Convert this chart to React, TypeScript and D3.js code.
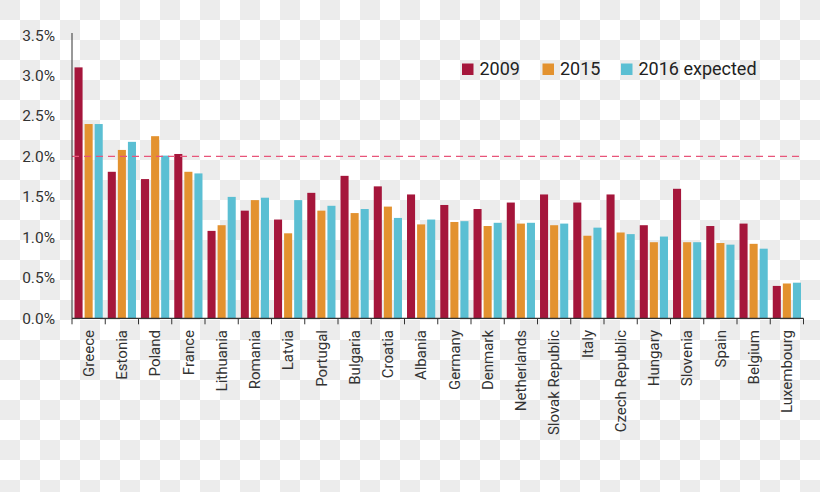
import React, { useRef, useEffect } from "react";
import * as d3 from "d3";

const countries = [
  "Greece", "Estonia", "Poland", "France", "Lithuania", "Romania", "Latvia",
  "Portugal", "Bulgaria", "Croatia", "Albania", "Germany", "Denmark",
  "Netherlands", "Slovak Republic", "Italy", "Czech Republic", "Hungary",
  "Slovenia", "Spain", "Belgium", "Luxembourg",
];
const values2009 = [3.1, 1.81, 1.72, 2.03, 1.08, 1.33, 1.22, 1.55, 1.76, 1.63, 1.53, 1.4, 1.35, 1.43, 1.53, 1.43, 1.53, 1.15, 1.6, 1.14, 1.17, 0.4];
const values2015 = [2.4, 2.08, 2.25, 1.81, 1.15, 1.46, 1.05, 1.33, 1.3, 1.38, 1.16, 1.19, 1.14, 1.17, 1.15, 1.02, 1.06, 0.94, 0.94, 0.93, 0.92, 0.43];
const values2016 = [2.4, 2.18, 2.01, 1.79, 1.5, 1.49, 1.46, 1.39, 1.35, 1.24, 1.22, 1.2, 1.18, 1.18, 1.17, 1.12, 1.04, 1.01, 0.94, 0.91, 0.86, 0.44];
const seriesNames = ["2009", "2015", "2016 expected"];
const seriesColors = ["#a5163b", "#e3922f", "#5bbfd3"];
const yTicks = [0, 0.5, 1, 1.5, 2, 2.5, 3, 3.5];
const targetLine = 2.0;

const BarChart = () => {
  const svgRef = useRef<SVGSVGElement>(null);

  useEffect(() => {
    const svg = d3.select(svgRef.current);
    svg.selectAll("*").remove();

    const width = 820;
    const height = 492;
    const font = "Roboto, 'Open Sans', sans-serif";
    const series = [values2009, values2015, values2016];

    // checkerboard background
    const defs = svg.append("defs");
    const pat = defs
      .append("pattern")
      .attr("id", "checker")
      .attr("width", 40)
      .attr("height", 40)
      .attr("patternUnits", "userSpaceOnUse");
    pat.append("rect").attr("width", 40).attr("height", 40).attr("fill", "#ffffff");
    pat.append("rect").attr("width", 20).attr("height", 20).attr("fill", "#ececec");
    pat.append("rect").attr("x", 20).attr("y", 20).attr("width", 20).attr("height", 20).attr("fill", "#ececec");
    svg.append("rect").attr("width", width).attr("height", height).attr("fill", "url(#checker)");

    const xScale = d3.scaleBand().domain(countries).range([72, 803.5]);
    const xSub = d3
      .scaleBand()
      .domain(seriesNames)
      .range([0, xScale.bandwidth()])
      .paddingInner(0.2)
      .paddingOuter(0.25);
    const yScale = d3.scaleLinear().domain([0, 3.5]).range([318.3, 35]);

    // bars
    series.forEach((vals, si) => {
      svg
        .append("g")
        .selectAll("rect")
        .data(vals)
        .enter()
        .append("rect")
        .attr("x", (d, i) => xScale(countries[i])! + xSub(seriesNames[si])!)
        .attr("y", d => yScale(d))
        .attr("width", xSub.bandwidth())
        .attr("height", d => yScale(0) - yScale(d))
        .attr("fill", seriesColors[si]);
    });

    // 2% dashed line
    svg
      .append("line")
      .attr("x1", 72)
      .attr("x2", 802)
      .attr("y1", yScale(targetLine))
      .attr("y2", yScale(targetLine))
      .attr("stroke", "#e8557a")
      .attr("stroke-width", 1.3)
      .attr("stroke-dasharray", "7,5");

    // y axis
    svg
      .append("line")
      .attr("x1", 72)
      .attr("x2", 72)
      .attr("y1", 33)
      .attr("y2", yScale(0))
      .attr("stroke", "#333")
      .attr("stroke-width", 1);

    svg
      .append("g")
      .selectAll("text")
      .data(yTicks)
      .enter()
      .append("text")
      .attr("x", 55)
      .attr("y", d => yScale(d) + 5.5)
      .attr("text-anchor", "end")
      .attr("font-family", font)
      .attr("font-size", 15.5)
      .attr("fill", "#333")
      .text(d => d.toFixed(1) + "%");

    // x axis
    const y0 = yScale(0);
    svg
      .append("line")
      .attr("x1", 72)
      .attr("x2", 803.5)
      .attr("y1", y0)
      .attr("y2", y0)
      .attr("stroke", "#333")
      .attr("stroke-width", 1.2);

    const edges = countries.map(c => xScale(c)!).concat([803.5]);
    svg
      .append("g")
      .selectAll("line")
      .data(edges)
      .enter()
      .append("line")
      .attr("x1", d => d)
      .attr("x2", d => d)
      .attr("y1", y0)
      .attr("y2", y0 + 6)
      .attr("stroke", "#333")
      .attr("stroke-width", 1);

    svg
      .append("g")
      .selectAll("text")
      .data(countries)
      .enter()
      .append("text")
      .attr("transform", d => `translate(${xScale(d)! + xScale.bandwidth() / 2}, 330) rotate(-90)`)
      .attr("dy", "0.35em")
      .attr("text-anchor", "end")
      .attr("font-family", font)
      .attr("font-size", 15)
      .attr("fill", "#333")
      .text(d => d);

    // legend
    const legendX = [462, 542.5, 621];
    const legend = svg
      .append("g")
      .selectAll("g")
      .data(seriesNames)
      .enter()
      .append("g")
      .attr("transform", (d, i) => `translate(${legendX[i]}, 63.5)`);
    legend
      .append("rect")
      .attr("width", 11.5)
      .attr("height", 11.5)
      .attr("fill", (d, i) => seriesColors[i]);
    legend
      .append("text")
      .attr("x", 17.5)
      .attr("y", 11.5)
      .attr("font-family", font)
      .attr("font-size", 18)
      .attr("fill", "#222")
      .text(d => d);
  }, []);

  return (
    <svg
      ref={svgRef}
      width={820}
      height={492}
      style={{ position: "absolute", left: 0, top: 0, display: "block" }}
    ></svg>
  );
};

export default function App() {
  return <BarChart />;
}
